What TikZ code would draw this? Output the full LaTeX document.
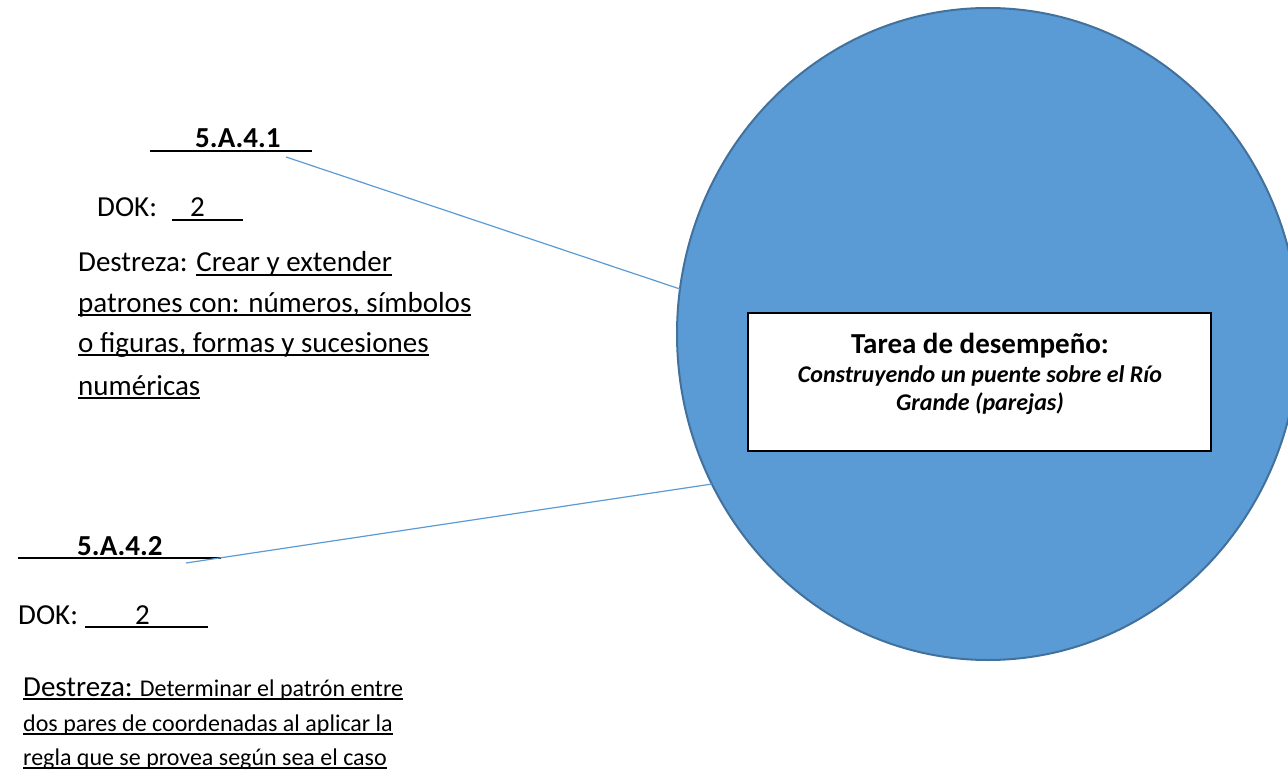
\documentclass[tikz,border=0pt]{standalone}
\usepackage{fontspec}
\setmainfont{Carlito}
\usetikzlibrary{shapes.geometric}
\definecolor{cfill}{HTML}{5B9BD5}
\definecolor{cedge}{HTML}{41719C}
\newcommand\ulx[1]{\setbox0\hbox{#1}\rlap{\rule[-4pt]{\wd0}{1.8pt}}\box0}
\newcommand\fsz[1]{\fontsize{#1pt}{#1pt}\selectfont}
\tikzset{
  txt/.style={anchor=base west, inner sep=0pt, font=\fsz{29}},
  small/.style={anchor=base west, inner sep=0pt, font=\fsz{24}},
  conn/.style={draw=cfill, line width=1.2pt},
  bubble/.style={ellipse, draw=cedge, fill=cfill, line width=2pt, minimum width=622pt, minimum height=652pt, inner sep=0pt},
  taskbox/.style={draw=black, fill=white, line width=2pt},
}
\begin{document}
\begin{tikzpicture}[x=1pt,y=-1pt]
\useasboundingbox (0,0) rectangle (1288,778);
\clip (0,0) rectangle (1288,778);
\node[bubble] (circ) at (988,334) {};
\draw[taskbox] (748,313) rectangle (1211,451);
\node[anchor=base, inner sep=0pt, font=\fsz{29}\bfseries] (t1) at (980,353) {Tarea de desempeño:};
\node[anchor=base, inner sep=0pt, font=\fsz{24}\bfseries\itshape] (t2) at (980,382) {Construyendo un puente sobre el Río};
\node[anchor=base, inner sep=0pt, font=\fsz{24}\bfseries\itshape] (t3) at (980,410) {Grande (parejas)};

\node[txt] (s1) at (150,148) {\ulx{\hspace{45pt}\textbf{5.A.4.1}\hspace{31pt}}};
\node[txt] (d1) at (97,217) {DOK:};
\node[txt] (d1v) at (172,217) {\ulx{\hspace{18pt}2\hspace{38pt}}};
\node[txt] (e1) at (78,272) {Destreza: \ulx{Crear y extender}};
\node[txt] (e2) at (78,312) {\ulx{patrones con: números, símbolos}};
\node[txt] (e3) at (78,352) {\ulx{o figuras, formas y sucesiones}};
\node[txt] (e4) at (78,395) {\ulx{numéricas}};

\node[txt] (s2) at (18,555) {\ulx{\hspace{59pt}\textbf{5.A.4.2}\hspace{58pt}}};
\node[txt] (d2) at (18,624) {DOK:};
\node[txt] (d2v) at (85,624) {\ulx{\hspace{50pt}2\hspace{58pt}}};
\node[small] (f1) at (23,696) {\ulx{{\fsz{29}Destreza:} Determinar el patrón entre}};
\node[small] (f2) at (23,731) {\ulx{dos pares de coordenadas al aplicar la}};
\node[small] (f3) at (23,765) {\ulx{regla que se provea según sea el caso}};

\coordinate (a1) at (286,157);
\coordinate (b1) at (680,289);
\coordinate (a2) at (186,563);
\coordinate (b2) at (712,484);
\draw[conn] (a1) -- (b1);
\draw[conn] (a2) -- (b2);
\end{tikzpicture}
\end{document}
